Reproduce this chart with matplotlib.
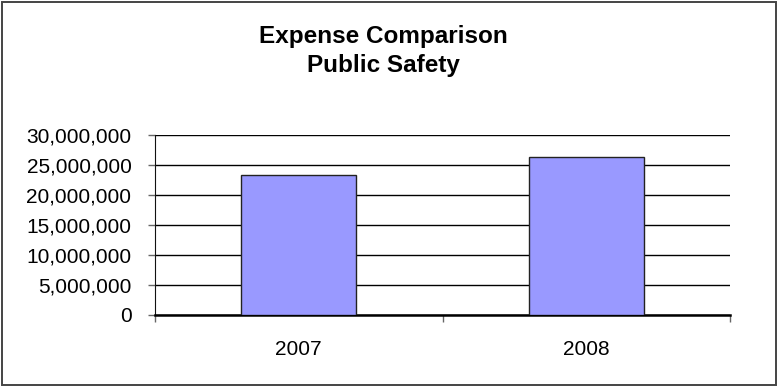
import matplotlib
matplotlib.use("Agg")
import matplotlib.pyplot as plt
from matplotlib.ticker import FuncFormatter, FixedLocator
from matplotlib.patches import Rectangle

plt.rcParams['font.family'] = ['Liberation Sans', 'DejaVu Sans']

years = ["2007", "2008"]
expenses = [23300000, 26250000]
y_ticks = [0, 5000000, 10000000, 15000000, 20000000, 25000000, 30000000]

W, H = 777, 386
fig = plt.figure(figsize=(W / 100, H / 100), dpi=100)
fig.patch.set_facecolor("white")

# outer chart border
fig.add_artist(Rectangle((1.5 / W, 1.5 / H), (W - 3) / W, (H - 3) / H,
                         transform=fig.transFigure, fill=False,
                         edgecolor="#444444", linewidth=1.4))

left, right, top, bottom = 155, 730, 135, 314.6
ax = fig.add_axes([left / W, 1 - bottom / H, (right - left) / W, (bottom - top) / H])

x = list(range(len(years)))
ax.bar(x, expenses, width=0.4, color="#9999FF", edgecolor="#222222",
       linewidth=1.0, zorder=3)

ax.set_xlim(-0.5, len(years) - 0.5)
ax.set_ylim(0, 30000000)
ax.set_yticks(y_ticks)
ax.yaxis.set_major_formatter(FuncFormatter(lambda v, p: f"{int(v):,}"))
ax.yaxis.grid(True, color="black", linewidth=1.0, zorder=0)
ax.set_axisbelow(True)

# categories labelled at centres, tick marks at category boundaries
ax.set_xticks(x)
ax.set_xticklabels(years)
ax.tick_params(axis="x", which="major", length=0, pad=18, labelsize=15)
ax.xaxis.set_minor_locator(FixedLocator([i - 0.5 for i in range(len(years) + 1)]))
ax.tick_params(axis="x", which="minor", length=5, width=1, color="#666666")
ax.tick_params(axis="y", length=5, width=1, color="#666666", labelsize=15, pad=12)

for side in ("top", "right"):
    ax.spines[side].set_visible(False)
ax.spines["left"].set_color("#111111")
ax.spines["bottom"].set_color("black")
ax.spines["bottom"].set_linewidth(1.8)

fig.text(383 / W, 1 - 36.5 / H, "Expense Comparison", ha="center", va="center",
         fontsize=17.5, fontweight="bold")
fig.text(383 / W, 1 - 65.5 / H, "Public Safety", ha="center", va="center",
         fontsize=17.5, fontweight="bold")

fig.savefig("out.png", dpi=100, facecolor="white")
